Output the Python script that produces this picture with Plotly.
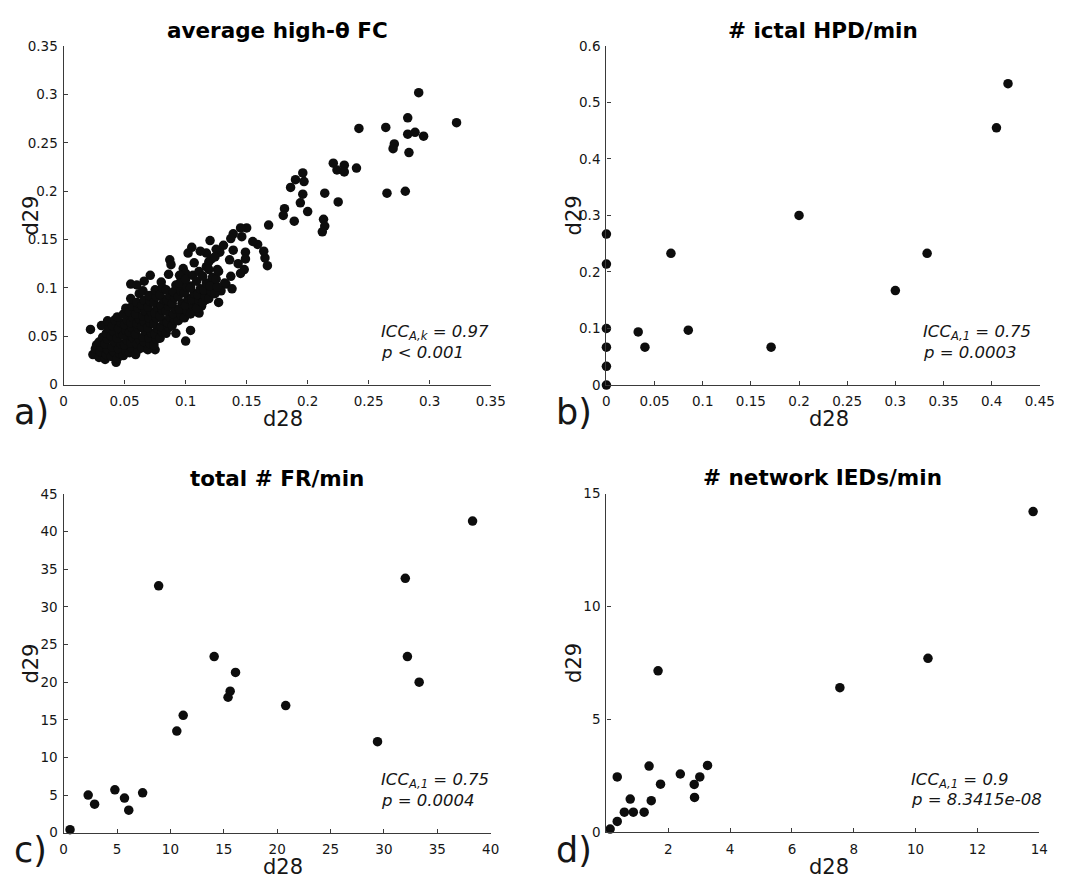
import plotly.graph_objects as go

W, H = 1071, 881

# ---------------- data ----------------
# (a) average high-theta FC, one point per channel pair
fc_d28 = [
    0.291, 0.322, 0.282, 0.264, 0.242, 0.282, 0.288, 0.295, 0.271, 0.270,
    0.283, 0.265, 0.280, 0.240, 0.221, 0.224, 0.230, 0.230, 0.214, 0.225,
    0.213, 0.214, 0.212, 0.196, 0.197, 0.190, 0.186, 0.196, 0.194, 0.200,
    0.189, 0.181, 0.180, 0.168, 0.167, 0.165, 0.164, 0.159, 0.155, 0.150,
    0.145, 0.146, 0.139, 0.137, 0.139, 0.149, 0.149, 0.148, 0.143, 0.145,
    0.136, 0.137, 0.131, 0.128, 0.125, 0.120, 0.117, 0.112, 0.105, 0.102,
    0.117, 0.126, 0.122, 0.133, 0.138, 0.127, 0.118, 0.113, 0.110, 0.087,
    0.088, 0.098, 0.086, 0.071, 0.055, 0.092, 0.104, 0.100, 0.022, 0.043, 0.075,
    0.100, 0.066, 0.060, 0.104, 0.111, 0.117, 0.111, 0.123, 0.119, 0.132, 0.129, 0.107, 0.095, 0.080,
    0.024, 0.026, 0.027,
    0.029, 0.030, 0.031, 0.029, 0.032, 0.031,
    0.034, 0.035, 0.036, 0.034, 0.036, 0.035, 0.037, 0.036,
    0.039, 0.041, 0.040, 0.042, 0.039, 0.041, 0.040, 0.042,
    0.044, 0.046, 0.045, 0.047, 0.044, 0.046, 0.045, 0.047, 0.044,
    0.049, 0.051, 0.050, 0.052, 0.049, 0.051, 0.050, 0.052, 0.049, 0.051,
    0.054, 0.056, 0.055, 0.057, 0.054, 0.056, 0.055, 0.057, 0.054, 0.056, 0.055,
    0.059, 0.061, 0.060, 0.062, 0.059, 0.061, 0.060, 0.062, 0.059, 0.061, 0.060, 0.062,
    0.064, 0.066, 0.065, 0.067, 0.064, 0.066, 0.065, 0.067, 0.064, 0.066, 0.065,
    0.069, 0.071, 0.070, 0.072, 0.069, 0.071, 0.070, 0.072, 0.069, 0.071, 0.070,
    0.074, 0.076, 0.075, 0.077, 0.074, 0.076, 0.075, 0.077, 0.074, 0.076, 0.075,
    0.079, 0.081, 0.080, 0.082, 0.079, 0.081, 0.080, 0.082, 0.079, 0.081,
    0.084, 0.086, 0.085, 0.087, 0.084, 0.086, 0.085, 0.087, 0.084,
    0.089, 0.091, 0.090, 0.092, 0.089, 0.091, 0.090, 0.092,
    0.094, 0.096, 0.095, 0.097, 0.094, 0.096, 0.095,
    0.099, 0.101, 0.100, 0.102, 0.099, 0.101, 0.100,
    0.104, 0.106, 0.105, 0.107, 0.104, 0.106,
    0.109, 0.111, 0.110, 0.112, 0.109, 0.111,
    0.114, 0.116, 0.115, 0.117, 0.114,
    0.119, 0.121, 0.120, 0.122, 0.119, 0.121,
    0.124, 0.126, 0.125, 0.127, 0.124,
]
fc_d29 = [
    0.302, 0.271, 0.276, 0.266, 0.265, 0.259, 0.261, 0.257, 0.249, 0.244,
    0.240, 0.198, 0.200, 0.224, 0.229, 0.222, 0.227, 0.220, 0.198, 0.189,
    0.171, 0.164, 0.158, 0.219, 0.210, 0.212, 0.204, 0.197, 0.188, 0.179,
    0.169, 0.182, 0.175, 0.165, 0.123, 0.131, 0.138, 0.145, 0.148, 0.162,
    0.162, 0.153, 0.156, 0.151, 0.139, 0.137, 0.130, 0.119, 0.125, 0.115,
    0.129, 0.112, 0.144, 0.137, 0.140, 0.149, 0.136, 0.138, 0.142, 0.136,
    0.122, 0.119, 0.109, 0.104, 0.099, 0.085, 0.089, 0.081, 0.075, 0.129,
    0.124, 0.120, 0.114, 0.113, 0.104, 0.053, 0.056, 0.045, 0.057, 0.023, 0.036,
    0.115, 0.107, 0.103, 0.102, 0.095, 0.088, 0.074, 0.108, 0.127, 0.105, 0.097, 0.126, 0.113, 0.106,
    0.031, 0.037, 0.041,
    0.028, 0.034, 0.039, 0.044, 0.049, 0.061,
    0.026, 0.031, 0.036, 0.042, 0.047, 0.053, 0.058, 0.066,
    0.029, 0.034, 0.039, 0.044, 0.050, 0.055, 0.061, 0.067,
    0.027, 0.032, 0.037, 0.042, 0.048, 0.053, 0.058, 0.064, 0.070,
    0.030, 0.035, 0.041, 0.046, 0.051, 0.056, 0.062, 0.067, 0.073, 0.079,
    0.033, 0.038, 0.043, 0.048, 0.054, 0.059, 0.064, 0.069, 0.075, 0.081, 0.089,
    0.031, 0.036, 0.042, 0.047, 0.052, 0.058, 0.063, 0.068, 0.073, 0.079, 0.085, 0.094,
    0.038, 0.044, 0.049, 0.055, 0.060, 0.065, 0.071, 0.076, 0.082, 0.087, 0.097,
    0.036, 0.042, 0.048, 0.053, 0.059, 0.064, 0.069, 0.075, 0.080, 0.086, 0.092,
    0.041, 0.047, 0.052, 0.058, 0.063, 0.069, 0.074, 0.080, 0.085, 0.091, 0.098,
    0.048, 0.054, 0.060, 0.066, 0.071, 0.077, 0.082, 0.088, 0.093, 0.100,
    0.053, 0.059, 0.064, 0.070, 0.076, 0.081, 0.087, 0.092, 0.098,
    0.061, 0.067, 0.073, 0.078, 0.084, 0.090, 0.096, 0.103,
    0.066, 0.072, 0.078, 0.084, 0.091, 0.097, 0.105,
    0.069, 0.076, 0.082, 0.089, 0.095, 0.101, 0.109,
    0.073, 0.081, 0.088, 0.094, 0.100, 0.113,
    0.079, 0.087, 0.093, 0.099, 0.107, 0.117,
    0.085, 0.091, 0.098, 0.105, 0.112,
    0.089, 0.096, 0.102, 0.111, 0.119, 0.130,
    0.094, 0.101, 0.109, 0.117, 0.132,
]
assert len(fc_d28) == len(fc_d29)

# (b) number of ictal HPD per minute
hpd_d28 = [0, 0, 0, 0, 0, 0, 0.033, 0.040, 0.067, 0.085, 0.171, 0.200, 0.300, 0.333, 0.405, 0.417]
hpd_d29 = [0.267, 0.214, 0.100, 0.067, 0.033, 0.0, 0.094, 0.067, 0.233, 0.097, 0.067, 0.300, 0.167, 0.233, 0.455, 0.533]

# (c) total number of FR per minute
fr_d28 = [0.6, 2.3, 2.9, 4.8, 5.7, 6.1, 7.4, 8.9, 10.6, 11.2, 14.1, 15.4, 15.6, 16.1, 20.8, 29.4, 32.0, 32.2, 33.3, 38.3]
fr_d29 = [0.4, 5.0, 3.8, 5.7, 4.6, 3.0, 5.3, 32.8, 13.5, 15.6, 23.4, 18.0, 18.8, 21.3, 16.9, 12.1, 33.8, 23.4, 20.0, 41.4]

# (d) number of network IEDs per minute
ied_d28 = [0.12, 0.35, 0.35, 0.58, 0.87, 0.77, 1.22, 1.45, 1.38, 1.75, 1.67, 2.39, 2.84, 2.85, 3.02, 3.27, 7.55, 10.4, 13.8]
ied_d29 = [0.14, 0.48, 2.45, 0.89, 0.89, 1.47, 0.89, 1.40, 2.93, 2.13, 7.15, 2.58, 2.12, 1.54, 2.45, 2.96, 6.40, 7.70, 14.2]

titles = ["average high-θ FC", "# ictal HPD/min", "total # FR/min", "# network IEDs/min"]
letters = ["a)", "b)", "c)", "d)"]
stats = [
    ("ICC<sub>A,k</sub> = 0.97", "p &lt; 0.001"),
    ("ICC<sub>A,1</sub> = 0.75", "p = 0.0003"),
    ("ICC<sub>A,1</sub> = 0.75", "p = 0.0004"),
    ("ICC<sub>A,1</sub> = 0.9", "p = 8.3415e-08"),
]

a_ticks = [0, 0.05, 0.1, 0.15, 0.2, 0.25, 0.3, 0.35]
a_text = ["0", "0.05", "0.1", "0.15", "0.2", "0.25", "0.3", "0.35"]
b_xticks = [0, 0.05, 0.1, 0.15, 0.2, 0.25, 0.3, 0.35, 0.4, 0.45]
b_xtext = ["0", "0.05", "0.1", "0.15", "0.2", "0.25", "0.3", "0.35", "0.4", "0.45"]
b_yticks = [0, 0.1, 0.2, 0.3, 0.4, 0.5, 0.6]
b_ytext = ["0", "0.1", "0.2", "0.3", "0.4", "0.5", "0.6"]
c_xticks = [0, 5, 10, 15, 20, 25, 30, 35, 40]
c_yticks = [0, 5, 10, 15, 20, 25, 30, 35, 40, 45]
d_xticks = [2, 4, 6, 8, 10, 12, 14]
d_yticks = [0, 5, 10, 15]

# ---------------- layout helpers (pixel positions -> paper) ----------------
def fx(px):
    return px / W

def fy(py):
    return 1 - py / H

# plot boxes in pixels: left, right, top, bottom
boxes = [
    (60.7, 495.5, 39.0, 383.5),
    (613.3, 1054.5, 38.5, 384.0),
    (60.7, 495.5, 495.0, 840.0),
    (613.3, 1054.0, 494.5, 839.5),
]

FONT = "DejaVu Sans"
AX = "#3a3a3a"
TXT = "#161616"

fig = go.Figure()
series = [(fc_d28, fc_d29), (hpd_d28, hpd_d29), (fr_d28, fr_d29), (ied_d28, ied_d29)]
for i, (xs, ys) in enumerate(series):
    sfx = "" if i == 0 else str(i + 1)
    fig.add_trace(go.Scatter(
        x=xs, y=ys, mode="markers", xaxis="x" + sfx, yaxis="y" + sfx,
        marker=dict(size=9.5, color="#0d0d0d", line=dict(width=0)),
        cliponaxis=False, showlegend=False, hoverinfo="skip",
    ))

ranges = [((0, 0.35), (0, 0.35)), ((0, 0.45), (0, 0.6)), ((0, 40), (0, 45)), ((0, 14), (0, 15))]
xticks = [(a_ticks, a_text), (b_xticks, b_xtext),
          (c_xticks, [str(v) for v in c_xticks]), (d_xticks, [str(v) for v in d_xticks])]
yticks = [(a_ticks, a_text), (b_yticks, b_ytext),
          (c_yticks, [str(v) for v in c_yticks]), (d_yticks, [str(v) for v in d_yticks])]

axis_common = dict(
    showline=True, linecolor=AX, linewidth=1.4, ticks="inside", ticklen=4,
    tickwidth=1, tickcolor=AX, showgrid=False, zeroline=False, mirror=False,
    tickfont=dict(family=FONT, size=13.5, color=TXT), fixedrange=True,
)

layout_axes = {}
annotations = []
for i, (l, r, t, b) in enumerate(boxes):
    sfx = "" if i == 0 else str(i + 1)
    top_row = i < 2
    xr, yr = ranges[i]
    layout_axes["xaxis" + sfx] = dict(
        axis_common, domain=[fx(l), fx(r)], range=list(xr), anchor="y" + sfx,
        tickvals=xticks[i][0], ticktext=xticks[i][1], ticklabelstandoff=4,
    )
    layout_axes["yaxis" + sfx] = dict(
        axis_common, domain=[fy(b), fy(t)], range=list(yr), anchor="x" + sfx,
        tickvals=yticks[i][0], ticktext=yticks[i][1], ticklabelstandoff=2,
    )
    cx = (l + r) / 2
    # title
    annotations.append(dict(
        text="<b>" + titles[i] + "</b>", x=fx(cx), y=fy(t - 16), xref="paper", yref="paper",
        xanchor="center", yanchor="middle", showarrow=False,
        font=dict(family=FONT, size=21.5, color="#000000"),
    ))
    # x label
    annotations.append(dict(
        text="d28", x=fx(cx + 6), y=fy(b + 35), xref="paper", yref="paper",
        xanchor="center", yanchor="middle", showarrow=False,
        font=dict(family=FONT, size=21, color=TXT),
    ))
    # y label
    annotations.append(dict(
        text="d29", x=fx(l - 33), y=fy((t + b) / 2), xref="paper", yref="paper",
        xanchor="center", yanchor="middle", showarrow=False, textangle=-90,
        font=dict(family=FONT, size=21, color=TXT),
    ))
    # panel letter
    annotations.append(dict(
        text=letters[i], x=fx(l - 53), y=fy(b + 50 if top_row else H - 1),
        xref="paper", yref="paper",
        xanchor="left", yanchor="bottom", showarrow=False,
        font=dict(family=FONT, size=35, color=TXT),
    ))
    # statistics
    sx = [0.738, 0.727, 0.738, 0.70][i]
    line1, line2 = stats[i]
    for txt, dy in ((line1, 53), (line2, 33)):
        annotations.append(dict(
            text=txt, x=sx, y=dy / (b - t), xref="x" + sfx + " domain", yref="y" + sfx + " domain",
            xanchor="left", yanchor="middle", showarrow=False,
            font=dict(family=FONT, size=16.5, color=TXT, style="italic"),
        ))

fig.update_layout(
    width=W, height=H, margin=dict(l=0, r=0, t=0, b=0),
    paper_bgcolor="white", plot_bgcolor="white",
    annotations=annotations, **layout_axes,
)

fig.write_html("out.html")
